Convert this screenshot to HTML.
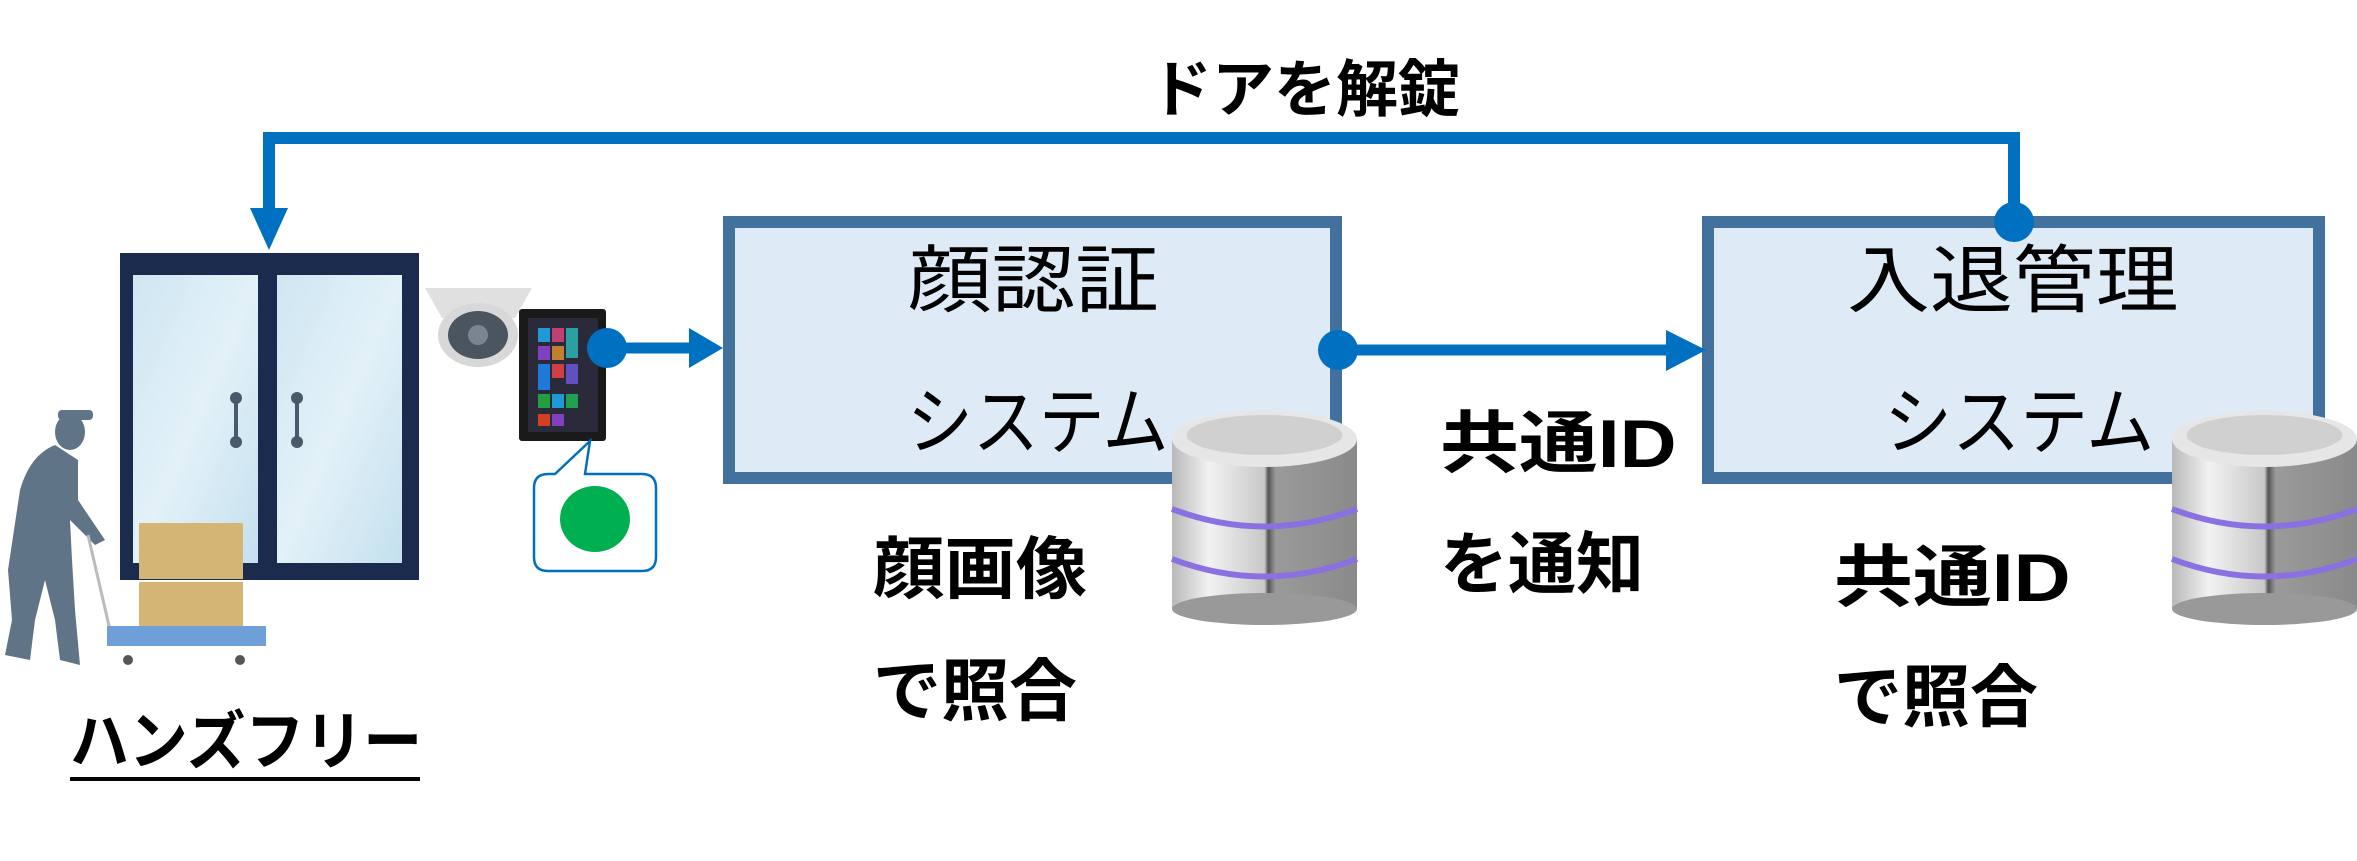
<!DOCTYPE html>
<html><head><meta charset="utf-8">
<style>
html,body{margin:0;padding:0;background:#fff;}
#c{position:relative;width:2357px;height:861px;overflow:hidden;background:#fff;font-family:"Liberation Sans","Noto Sans CJK JP",sans-serif;}
.t{position:absolute;white-space:nowrap;line-height:1;color:#000;transform-origin:0 0;}
.b{font-weight:bold;font-size:68px;}
.l{font-size:74px;font-weight:normal;}
</style></head><body>
<div id="c">
<svg width="2357" height="861" style="position:absolute;left:0;top:0">
 <defs>
  <linearGradient id="glass" x1="0" y1="0" x2="1" y2="1">
   <stop offset="0" stop-color="#cfe6f2"/><stop offset="0.5" stop-color="#e3f1f8"/><stop offset="1" stop-color="#c4e0ee"/>
  </linearGradient>
  <linearGradient id="db" x1="0" y1="0" x2="1" y2="0">
   <stop offset="0" stop-color="#b8b8b8"/><stop offset="0.2" stop-color="#f2f2f2"/><stop offset="0.5" stop-color="#c8c8c8"/><stop offset="0.52" stop-color="#555"/><stop offset="0.56" stop-color="#9a9a9a"/><stop offset="1" stop-color="#8a8a8a"/>
  </linearGradient>
  <g id="dbicon">
   <rect x="0" y="30" width="185" height="170" fill="url(#db)"/>
   <ellipse cx="92.5" cy="200" rx="92.5" ry="16" fill="#999"/>
   <ellipse cx="92.5" cy="30" rx="92.5" ry="28" fill="#e6e6e6"/>
   <ellipse cx="92.5" cy="26" rx="78" ry="20" fill="#d0d0d0"/>
   <path d="M0 100 Q92 135 185 100" stroke="#8a70e0" stroke-width="6" fill="none"/>
   <path d="M0 150 Q92 185 185 150" stroke="#8a70e0" stroke-width="6" fill="none"/>
  </g>
 </defs>
 <rect x="729" y="222" width="607" height="256" fill="#deeaf6" stroke="#41719c" stroke-width="12"/>
 <rect x="1708" y="222" width="611" height="256" fill="#deeaf6" stroke="#41719c" stroke-width="12"/>
 <polyline points="2014,222 2014,138 269,138 269,215" fill="none" stroke="#0070c0" stroke-width="12"/>
 <polygon points="250,208 288,208 269,250" fill="#0070c0"/>
 <circle cx="2014" cy="222" r="20" fill="#0070c0"/>
 <line x1="1338" y1="350" x2="1672" y2="350" stroke="#0070c0" stroke-width="11"/>
 <polygon points="1666,330 1706,350 1666,371" fill="#0070c0"/>
 <circle cx="1338" cy="350" r="20" fill="#0070c0"/>
 <line x1="607" y1="348" x2="695" y2="348" stroke="#0070c0" stroke-width="11"/>
 <polygon points="689,328 723,348 689,368" fill="#0070c0"/>
 <rect x="120" y="253" width="299" height="327" fill="#1b2b4d"/>
 <rect x="133" y="275" width="125" height="288" fill="url(#glass)"/>
 <rect x="277" y="275" width="125" height="288" fill="url(#glass)"/>
 <rect x="234" y="398" width="4" height="44" fill="#4a5a6a"/><circle cx="236" cy="398" r="6" fill="#4a5a6a"/><circle cx="236" cy="442" r="6" fill="#4a5a6a"/>
 <rect x="295" y="398" width="4" height="44" fill="#4a5a6a"/><circle cx="297" cy="398" r="6" fill="#4a5a6a"/><circle cx="297" cy="442" r="6" fill="#4a5a6a"/>
 <path d="M425 288 L532 288 L515 318 L442 318 Z" fill="#e0e0e0"/>
 <ellipse cx="478" cy="335" rx="40" ry="32" fill="#d8d8d8"/>
 <ellipse cx="478" cy="335" rx="30" ry="24" fill="#4a5560"/>
 <circle cx="478" cy="335" r="10" fill="#7a858f"/>
 <rect x="519" y="309" width="87" height="132" rx="3" fill="#1a1a1a"/>
 <rect x="528" y="318" width="70" height="114" fill="#2a2a3a"/>
 <rect x="538" y="328" width="12" height="14" fill="#1e9ad6"/><rect x="552" y="328" width="12" height="14" fill="#c04070"/><rect x="566" y="328" width="12" height="30" fill="#2aa0a0"/>
 <rect x="538" y="346" width="12" height="14" fill="#8040c0"/><rect x="552" y="346" width="12" height="14" fill="#c08030"/>
 <rect x="538" y="364" width="12" height="26" fill="#1e7ad6"/><rect x="552" y="364" width="12" height="14" fill="#d04040"/><rect x="566" y="364" width="12" height="20" fill="#6050c0"/>
 <rect x="538" y="394" width="12" height="14" fill="#20a040"/><rect x="552" y="394" width="12" height="14" fill="#1e9ad6"/><rect x="566" y="394" width="12" height="14" fill="#20a050"/>
 <rect x="538" y="414" width="12" height="12" fill="#d04020"/><rect x="552" y="414" width="12" height="12" fill="#8040c0"/>
 <circle cx="607" cy="348" r="20" fill="#0070c0"/>
 <path d="M548 474 L555 474 L590 441 L585 474 L642 474 Q656 474 656 488 L656 557 Q656 571 642 571 L548 571 Q534 571 534 557 L534 488 Q534 474 548 474 Z" fill="#fff" stroke="#0070c0" stroke-width="2.5"/>
 <ellipse cx="595" cy="519" rx="35" ry="33" fill="#00b050"/>
 <g fill="#5f7486">
  <ellipse cx="70" cy="432" rx="15" ry="18"/>
  <rect x="58" y="410" width="35" height="10" rx="4"/>
  <path d="M55 445 Q30 455 20 490 L8 570 L12 620 L5 655 L30 660 L35 620 L45 580 L55 620 L60 660 L80 665 L75 610 L72 560 L70 520 L95 545 L105 540 L78 500 L78 460 Z"/>
 </g>
 <line x1="88" y1="535" x2="110" y2="630" stroke="#bbb" stroke-width="3"/>
 <rect x="139" y="523" width="104" height="56" fill="#d4b574"/>
 <rect x="139" y="582" width="104" height="57" fill="#d4b574"/>
 <rect x="107" y="626" width="159" height="20" fill="#6f9fd8"/>
 <circle cx="128" cy="660" r="5" fill="#555"/><circle cx="240" cy="660" r="5" fill="#555"/>
 <use href="#dbicon" x="1172" y="409"/>
 <use href="#dbicon" x="2172" y="409"/>
 <rect x="70" y="777" width="350" height="4" fill="#000"/>
</svg>
<div class="t b" style="left:1150px;top:60px;font-size:62px;">ドアを解錠</div>
<div class="t l" style="left:908px;top:244px;transform:scaleX(1.13);">顔認証</div>
<div class="t l" style="left:907px;top:386px;transform:scaleX(0.89);">システム</div>
<div class="t l" style="left:1847px;top:244px;transform:scaleX(1.12);">入退管理</div>
<div class="t l" style="left:1884px;top:386px;transform:scaleX(0.92);">システム</div>
<div class="t b" style="left:873px;top:536px;transform:scaleX(1.05);">顔画像</div>
<div class="t b" style="left:873px;top:658px;">で照合</div>
<div class="t b" style="left:1440px;top:410px;transform:scaleX(1.16);">共通ID</div>
<div class="t b" style="left:1440px;top:531px;">を通知</div>
<div class="t b" style="left:1834px;top:544px;transform:scaleX(1.16);">共通ID</div>
<div class="t b" style="left:1834px;top:664px;">で照合</div>
<div class="t b" style="left:70px;top:710px;font-size:64px;transform:scaleX(0.92);">ハンズフリー</div>
</div>
</body></html>
